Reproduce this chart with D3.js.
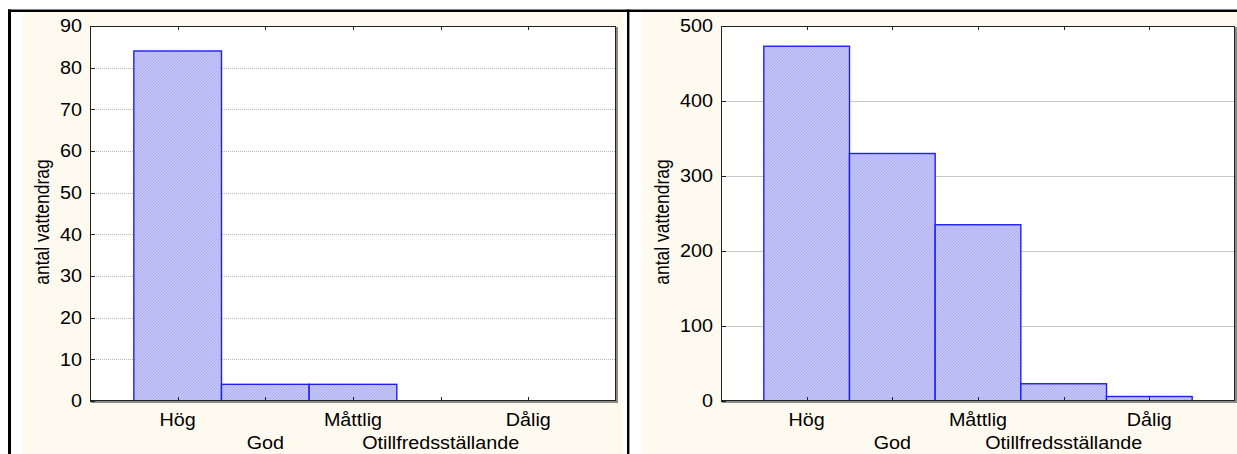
<!DOCTYPE html>
<html>
<head>
<meta charset="utf-8">
<script src="https://cdn.jsdelivr.net/npm/d3@7"></script>
<style>
  html, body { margin: 0; padding: 0; background: #ffffff; }
  svg { display: block; }
  text { font-family: "Liberation Sans", Arial, sans-serif; fill: #000; }
</style>
</head>
<body>
<svg id="chart" width="1237" height="454"></svg>
<script>
// Water body status classes
const categories = ["Hög", "God", "Måttlig", "Otillfredsställande", "Dålig"];

// Number of water bodies per class, left and right panels
const leftValues = [84, 4, 4, 0, 0];
const rightValues = [473, 330, 235, 23, 6];

// Y-axis ticks for each panel
const leftTicks = [0, 10, 20, 30, 40, 50, 60, 70, 80, 90];
const rightTicks = [0, 100, 200, 300, 400, 500];

const yTitle = "antal vattendrag";

const svg = d3.select("#chart");
const W = 1237, H = 454;
const STRETCH = 1.13;   // glyphs are drawn slightly wide
const FONT = 17.5;

// Hatched fill used by the bars
const defs = svg.append("defs");
const pat = defs.append("pattern")
  .attr("id", "hatch")
  .attr("patternUnits", "userSpaceOnUse")
  .attr("width", 3).attr("height", 3);
pat.append("rect").attr("width", 3).attr("height", 3).attr("fill", "#c4c5fb");
pat.append("path")
  .attr("d", "M-1,1 L1,-1 M0,3 L3,0 M2,4 L4,2")
  .attr("stroke", "#a9abee").attr("stroke-width", 0.9);

// Page frame: top and left rules, divider between panels
svg.append("rect").attr("x", 0).attr("y", 0).attr("width", W).attr("height", H).attr("fill", "#ffffff");

function drawPanel(cfg) {
  const g = svg.append("g");
  // cream panel background
  g.append("rect")
    .attr("x", cfg.bgX0).attr("y", 12)
    .attr("width", cfg.bgX1 - cfg.bgX0).attr("height", H - 12)
    .attr("fill", "#fffaef");

  const x0 = cfg.plotX0, x1 = cfg.plotX1, yTop = 26, yBot = 401;
  // plot area
  g.append("rect")
    .attr("x", x0).attr("y", yTop)
    .attr("width", x1 - x0).attr("height", yBot - yTop)
    .attr("fill", "#ffffff");

  const x = d3.scaleBand()
    .domain(cfg.categories)
    .range([x0, x1])
    .paddingInner(0)
    .paddingOuter(0.5);

  const y = d3.scaleLinear()
    .domain([0, cfg.ticks[cfg.ticks.length - 1]])
    .range([yBot, yTop]);

  // horizontal gridlines
  g.append("g").selectAll("line")
    .data(cfg.ticks.filter(t => t > 0 && t < cfg.ticks[cfg.ticks.length - 1]))
    .join("line")
    .attr("x1", x0).attr("x2", x1)
    .attr("y1", d => Math.round(y(d)) + 0.5).attr("y2", d => Math.round(y(d)) + 0.5)
    .attr("stroke", cfg.gridColor)
    .attr("stroke-width", 1)
    .attr("stroke-dasharray", cfg.gridDash);

  // bars
  const data = cfg.categories.map((c, i) => ({ c, v: cfg.values[i] }));
  g.append("g").selectAll("rect")
    .data(data.filter(d => d.v > 0))
    .join("rect")
    .attr("x", d => x(d.c))
    .attr("width", x.bandwidth())
    .attr("y", d => y(d.v))
    .attr("height", d => yBot - y(d.v))
    .attr("fill", "url(#hatch)")
    .attr("stroke", "#1f1ff5")
    .attr("stroke-width", 1.4);

  // frame shadow and border
  g.append("path")
    .attr("d", `M${x1 + 1},${yTop + 1} V${yBot + 1} H${x0 + 1}`)
    .attr("fill", "none").attr("stroke", "#8a8a8a").attr("stroke-width", 2);
  g.append("rect")
    .attr("x", x0 + 0.5).attr("y", yTop + 0.5)
    .attr("width", x1 - x0 - 1).attr("height", yBot - yTop - 1)
    .attr("fill", "none").attr("stroke", "#222").attr("stroke-width", 1);

  // inward ticks on the value axis
  g.append("g").selectAll("line")
    .data(cfg.ticks)
    .join("line")
    .attr("x1", x0).attr("x2", x0 + 5)
    .attr("y1", d => Math.round(y(d)) + 0.5).attr("y2", d => Math.round(y(d)) + 0.5)
    .attr("stroke", "#222");

  // inward ticks on top and bottom at category centres
  const centres = cfg.categories.map(c => x(c) + x.bandwidth() / 2);
  g.append("g").selectAll("line.tb")
    .data(centres)
    .join("line")
    .attr("x1", d => Math.round(d) + 0.5).attr("x2", d => Math.round(d) + 0.5)
    .attr("y1", yTop).attr("y2", yTop + 4)
    .attr("stroke", "#222");
  g.append("g").selectAll("line.bt")
    .data(centres)
    .join("line")
    .attr("x1", d => Math.round(d) + 0.5).attr("x2", d => Math.round(d) + 0.5)
    .attr("y1", yBot).attr("y2", yBot - 4)
    .attr("stroke", "#222");

  // value labels
  g.append("g").selectAll("text")
    .data(cfg.ticks)
    .join("text")
    .attr("transform", d => `translate(${x0 - 8},${y(d) + 6.3}) scale(${STRETCH},1)`)
    .attr("text-anchor", "end")
    .attr("font-size", FONT)
    .text(d => d);

  // category labels, staggered in two rows
  g.append("g").selectAll("text")
    .data(cfg.categories)
    .join("text")
    .attr("transform", (d, i) => `translate(${x(d) + x.bandwidth() / 2},${i % 2 === 0 ? 426 : 448.5}) scale(${STRETCH},1)`)
    .attr("text-anchor", "middle")
    .attr("font-size", FONT)
    .text(d => d);

  // axis title
  g.append("text")
    .attr("transform", `translate(${cfg.titleX},222) scale(${STRETCH},1) rotate(-90)`)
    .attr("text-anchor", "middle")
    .attr("font-size", FONT)
    .text(yTitle);
}

drawPanel({
  categories, values: leftValues, ticks: leftTicks,
  bgX0: 23, bgX1: 623, plotX0: 90, plotX1: 616, titleX: 49,
  gridColor: "#b8b8b8", gridDash: "1,1"
});

drawPanel({
  categories, values: rightValues, ticks: rightTicks,
  bgX0: 642, bgX1: W, plotX0: 721, plotX1: 1235, titleX: 669,
  gridColor: "#c8c8c8", gridDash: null
});

// outer rules
svg.append("line").attr("x1", 8).attr("x2", W).attr("y1", 10.75).attr("y2", 10.75)
  .attr("stroke", "#000").attr("stroke-width", 2.5);
svg.append("line").attr("x1", 9.5).attr("x2", 9.5).attr("y1", 9.5).attr("y2", H)
  .attr("stroke", "#000").attr("stroke-width", 3);
svg.append("line").attr("x1", 628.2).attr("x2", 628.2).attr("y1", 9.5).attr("y2", H)
  .attr("stroke", "#000").attr("stroke-width", 2.4);
</script>
</body>
</html>
